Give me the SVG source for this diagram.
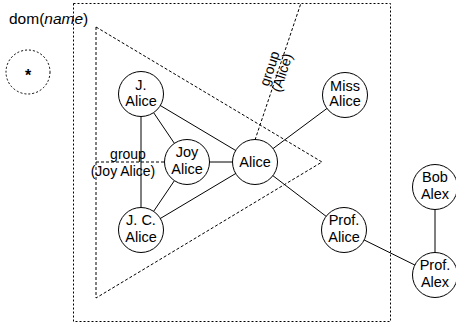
<svg xmlns="http://www.w3.org/2000/svg" width="456" height="329" viewBox="0 0 456 329">
<style>
text{font-family:"Liberation Sans",Arial,sans-serif;font-size:14.5px;fill:#000;text-anchor:middle}
.lbl{font-size:14px}
.n circle{fill:#fff;stroke:#000;stroke-width:1}
.e line{stroke:#000;stroke-width:1}
.dot{fill:none;stroke:#000;stroke-width:1;stroke-dasharray:2,2}
.dash{fill:none;stroke:#000;stroke-width:1;stroke-dasharray:3,2}
</style>
<rect width="456" height="329" fill="#fff"/>
<g id="clusters">
<rect class="dot" x="73.5" y="3.5" width="317" height="318"/>
<polygon class="dash" points="96,27 322,162 96,298"/>
<line class="dash" x1="96" y1="162" x2="165" y2="162"/>
<line class="dash" x1="255" y1="140" x2="301" y2="3"/>
<text x="9" y="24" style="text-anchor:start;font-size:15.5px">dom(<tspan font-style="italic">name</tspan>)</text>
<text class="lbl" x="128" y="159">group</text>
<text class="lbl" x="123" y="176">(Joy Alice)</text>
<text class="lbl" transform="translate(277,71) rotate(-71.6)" x="0" y="-3">group</text>
<text class="lbl" transform="translate(277,71) rotate(-71.6)" x="0" y="10">(Alice)</text>
</g>
<g id="star">
<circle class="dot" cx="28" cy="72" r="22"/>
<text x="28" y="81" style="font-size:16px;font-weight:bold">*</text>
</g>
<g class="e" id="edges">
<line x1="141" y1="94" x2="187" y2="162"/>
<line x1="141" y1="94" x2="255" y2="162"/>
<line x1="141" y1="94" x2="141" y2="230"/>
<line x1="187" y1="162" x2="255" y2="162"/>
<line x1="187" y1="162" x2="141" y2="230"/>
<line x1="141" y1="230" x2="255" y2="162"/>
<line x1="255" y1="162" x2="345" y2="95"/>
<line x1="255" y1="162" x2="344" y2="230"/>
<line x1="344" y1="230" x2="435" y2="275"/>
<line x1="435" y1="187" x2="435" y2="275"/>
</g>
<g class="n" id="j-alice"><circle cx="141" cy="94" r="22.5"/><text x="141" y="90">J.</text><text x="141" y="106">Alice</text></g>
<g class="n" id="joy-alice"><circle cx="187" cy="162" r="22.5"/><text x="187" y="157">Joy</text><text x="187" y="174">Alice</text></g>
<g class="n" id="alice"><circle cx="255" cy="162" r="22.5"/><text x="255" y="167">Alice</text></g>
<g class="n" id="jc-alice"><circle cx="141" cy="230" r="22.5"/><text x="141" y="225">J. C.</text><text x="141" y="242">Alice</text></g>
<g class="n" id="miss-alice"><circle cx="345" cy="95" r="22.5"/><text x="345" y="91">Miss</text><text x="345" y="106">Alice</text></g>
<g class="n" id="prof-alice"><circle cx="344" cy="230" r="22.5"/><text x="344" y="225">Prof.</text><text x="344" y="242">Alice</text></g>
<g class="n" id="bob-alex"><circle cx="435" cy="187" r="22.5"/><text x="435" y="182">Bob</text><text x="435" y="199">Alex</text></g>
<g class="n" id="prof-alex"><circle cx="435" cy="275" r="22.5"/><text x="435" y="270">Prof.</text><text x="435" y="287">Alex</text></g>
</svg>
